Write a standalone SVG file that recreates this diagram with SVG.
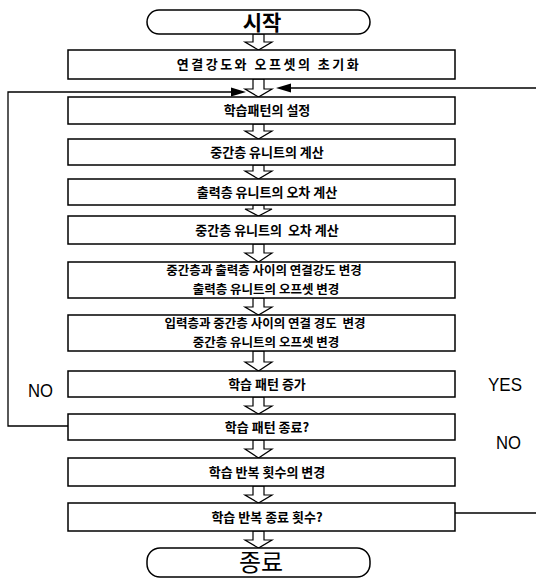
<svg xmlns="http://www.w3.org/2000/svg" width="536" height="579" viewBox="0 0 536 579">
<style>
.box{fill:#fff;stroke:#000;stroke-width:1.5}
.term{fill:#fff;stroke:#000;stroke-width:1.5}
.t{font-family:"Noto Sans CJK KR","Noto Sans",sans-serif;font-weight:bold;font-size:13px;text-anchor:middle;fill:#000}
.t2{font-family:"Noto Sans CJK KR","Noto Sans",sans-serif;font-weight:bold;font-size:12.5px;text-anchor:middle;fill:#000}
.tt{font-family:"Noto Sans CJK KR","Noto Sans",sans-serif;font-weight:bold;font-size:21px;text-anchor:middle;fill:#000}
.te{font-family:"Noto Sans CJK KR","Noto Sans",sans-serif;font-weight:normal;font-size:24px;text-anchor:middle;fill:#000}
.lbl{font-family:"Liberation Sans",Arial,sans-serif;font-size:19px;fill:#000}
.ha{fill:#fff;stroke:#000;stroke-width:1.2;stroke-linejoin:miter}
.ln{fill:none;stroke:#000;stroke-width:1.3}
.fa{fill:#000}
</style>
<rect width="536" height="579" fill="#fff"/>
<g id="connectors">
<polygon class="ha" points="253,34 264,34 264,42 272,42 258.5,50 245,42 253,42"/>
<polygon class="ha" points="253,79 264,79 264,89 272,89 258.5,97 245,89 253,89"/>
<polygon class="ha" points="253,124 264,124 264,131 272,131 258.5,139 245,131 253,131"/>
<polygon class="ha" points="253,165 264,165 264,171 272,171 258.5,179 245,171 253,171"/>
<polygon class="ha" points="253,205 264,205 264,209 272,209 258.5,216 245,209 253,209"/>
<polygon class="ha" points="253,244 264,244 264,253 272,253 258.5,262 245,253 253,253"/>
<polygon class="ha" points="253,298 264,298 264,307 272,307 258.5,315 245,307 253,307"/>
<polygon class="ha" points="253,351 264,351 264,362 272,362 258.5,371 245,362 253,362"/>
<polygon class="ha" points="253,397 264,397 264,406 272,406 258.5,414 245,406 253,406"/>
<polygon class="ha" points="253,440 264,440 264,449 272,449 258.5,458 245,449 253,449"/>
<polygon class="ha" points="253,486 264,486 264,495 272,495 258.5,503 245,495 253,495"/>
<polygon class="ha" points="253,531 264,531 264,540 272,540 258.5,548 245,540 253,540"/>
<polyline class="ln" points="68,426 8,426 8,92 232,92"/>
<polygon class="fa" points="231,87.5 246,92 231,96.5"/>
<line class="ln" x1="536" y1="88" x2="290" y2="88"/>
<polygon class="fa" points="291,83.5 276,88 291,92.5"/>
<line class="ln" x1="455" y1="513" x2="536" y2="513"/>
</g>
<g id="start"><rect class="term" x="147" y="10" width="223" height="24" rx="12"/><text class="tt" x="262" y="30">시작</text></g>
<g id="n1"><rect class="box" x="68" y="50" width="387" height="29"/><text class="t" x="269" y="69" letter-spacing="2.5">연결강도와 오프셋의 초기화</text></g>
<g id="n2"><rect class="box" x="68" y="97" width="387" height="27"/><text class="t" x="267" y="115">학습패턴의 설정</text></g>
<g id="n3"><rect class="box" x="68" y="139" width="387" height="26"/><text class="t" x="267" y="157">중간층 유니트의 계산</text></g>
<g id="n4"><rect class="box" x="68" y="179" width="387" height="26"/><text class="t" x="267" y="197">출력층 유니트의 오차 계산</text></g>
<g id="n5"><rect class="box" x="68" y="216" width="387" height="28"/><text class="t" x="267" y="235" xml:space="preserve">중간층 유니트의  오차 계산</text></g>
<g id="n6"><rect class="box" x="68" y="262" width="387" height="36"/><text class="t2" x="264" y="275">중간층과 출력층 사이의 연결강도 변경</text><text class="t2" x="266" y="293.5">출력층 유니트의 오프셋 변경</text></g>
<g id="n7"><rect class="box" x="68" y="315" width="387" height="36"/><text class="t2" x="265" y="328" xml:space="preserve">입력층과 중간층 사이의 연결 경도  변경</text><text class="t2" x="266" y="346.5">중간층 유니트의 오프셋 변경</text></g>
<g id="n8"><rect class="box" x="68" y="371" width="387" height="26"/><text class="t" x="267" y="389">학습 패턴 증가</text></g>
<g id="n9"><rect class="box" x="68" y="414" width="387" height="26"/><text class="t" x="267" y="432">학습 패턴 종료?</text></g>
<g id="n10"><rect class="box" x="68" y="458" width="387" height="28"/><text class="t" x="267" y="477">학습 반복 횟수의 변경</text></g>
<g id="n11"><rect class="box" x="68" y="503" width="387" height="28"/><text class="t" x="267" y="522">학습 반복 종료 횟수?</text></g>
<g id="end"><rect class="term" x="147" y="548" width="223" height="29" rx="13"/><text class="te" x="261" y="571">종료</text></g>
<g id="labels">
<text class="lbl" x="28" y="397" textLength="25" lengthAdjust="spacingAndGlyphs">NO</text>
<text class="lbl" x="488" y="391" textLength="34" lengthAdjust="spacingAndGlyphs">YES</text>
<text class="lbl" x="496" y="449" textLength="25" lengthAdjust="spacingAndGlyphs">NO</text>
</g>
</svg>
